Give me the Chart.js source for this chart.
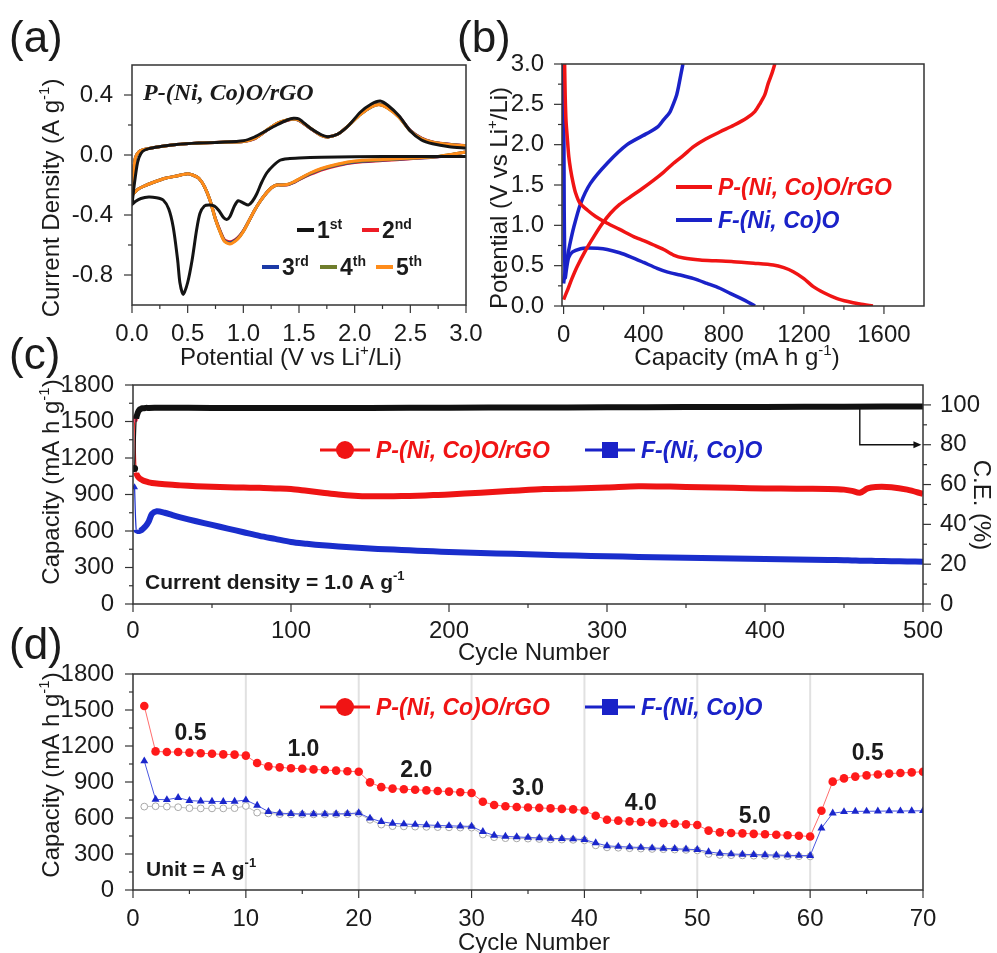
<!DOCTYPE html>
<html><head><meta charset="utf-8">
<script src="https://cdn.jsdelivr.net/npm/chart.js@4.4.1/dist/chart.umd.min.js"></script>
<style>
html,body{margin:0;padding:0;background:#fff;}
#wrap{position:relative;width:997px;height:953px;overflow:hidden;background:#fff;}
canvas{position:absolute;left:0;top:0;}
</style></head><body><div id="wrap">
<canvas id="ca" width="997" height="953"></canvas>
<canvas id="cb" width="997" height="953"></canvas>
<canvas id="cc" width="997" height="953"></canvas>
<canvas id="cd" width="997" height="953"></canvas>
</div>
<script>
// ================= DATA =================
// ---- (a) cyclic voltammetry ----
const cvTicksX = [0, 0.5, 1.0, 1.5, 2.0, 2.5, 3.0];
const cvMinorX = [0.25, 0.75, 1.25, 1.75, 2.25, 2.75];
const cvTicksY = [-0.8, -0.4, 0.0, 0.4];
const cvMinorY = [-0.6, -0.2, 0.2];
const cvCycleNames = ['1', '2', '3', '4', '5'];
const cvCycleSup = ['st', 'nd', 'rd', 'th', 'th'];
// 1st cycle: cathodic scan 3.0 -> 0.0 then anodic scan 0.0 -> 3.0
const cv1Potential = [3.0,2.5,2.0,1.7,1.5,1.4,1.33,1.27,1.21,1.16,1.12,1.08,1.045,1.0,0.955,0.92,0.88,0.85,0.82,0.78,0.74,0.69,0.65,0.61,0.58,0.54,0.5,0.46,0.43,0.41,0.37,0.33,0.28,0.22,0.15,0.08,0.03,0.0,
  0.0,0.02,0.05,0.08,0.12,0.2,0.4,0.6,0.8,1.0,1.1,1.2,1.3,1.4,1.45,1.5,1.6,1.7,1.76,1.85,1.95,2.05,2.15,2.23,2.3,2.4,2.5,2.6,2.7,2.85,3.0];
const cv1Current = [-0.01,-0.01,-0.012,-0.015,-0.02,-0.025,-0.035,-0.07,-0.12,-0.19,-0.26,-0.31,-0.333,-0.32,-0.305,-0.34,-0.41,-0.43,-0.415,-0.37,-0.34,-0.333,-0.34,-0.39,-0.5,-0.7,-0.85,-0.93,-0.85,-0.7,-0.48,-0.36,-0.3,-0.285,-0.28,-0.29,-0.31,-0.33,
  -0.33,-0.2,-0.05,0.01,0.035,0.05,0.07,0.08,0.085,0.095,0.12,0.16,0.2,0.235,0.245,0.24,0.18,0.135,0.122,0.14,0.2,0.285,0.34,0.36,0.33,0.26,0.16,0.1,0.075,0.055,0.045];
// 2nd-5th cycles share the same potential path
const cvPotential = [3.0,2.75,2.5,2.25,2.0,1.85,1.7,1.6,1.5,1.45,1.4,1.35,1.3,1.25,1.2,1.15,1.1,1.05,1.0,0.95,0.9,0.87,0.83,0.8,0.75,0.7,0.65,0.6,0.55,0.5,0.4,0.3,0.2,0.1,0.05,0.01,
  0.0,0.01,0.03,0.06,0.1,0.2,0.4,0.6,0.8,1.0,1.1,1.2,1.3,1.4,1.45,1.5,1.6,1.7,1.76,1.85,1.95,2.05,2.15,2.22,2.3,2.4,2.5,2.6,2.7,2.85,3.0];
const cv2Current = [0.02,-0.012,-0.025,-0.037,-0.05,-0.07,-0.1,-0.13,-0.165,-0.185,-0.198,-0.2,-0.2,-0.22,-0.26,-0.31,-0.37,-0.44,-0.505,-0.55,-0.575,-0.578,-0.565,-0.52,-0.425,-0.3,-0.21,-0.155,-0.135,-0.125,-0.14,-0.155,-0.18,-0.21,-0.23,-0.26,
  -0.27,-0.15,-0.02,0.02,0.035,0.05,0.07,0.08,0.085,0.09,0.108,0.158,0.208,0.232,0.238,0.23,0.178,0.13,0.12,0.14,0.2,0.272,0.322,0.34,0.318,0.255,0.165,0.112,0.087,0.072,0.062];
const cv3Current = [0.02,-0.011,-0.023,-0.034,-0.046,-0.066,-0.096,-0.126,-0.163,-0.183,-0.197,-0.2,-0.2,-0.22,-0.26,-0.31,-0.37,-0.44,-0.507,-0.555,-0.58,-0.584,-0.57,-0.525,-0.428,-0.3,-0.21,-0.155,-0.135,-0.125,-0.14,-0.155,-0.18,-0.21,-0.23,-0.26,
  -0.27,-0.15,-0.02,0.02,0.035,0.05,0.07,0.08,0.085,0.09,0.109,0.159,0.209,0.234,0.239,0.231,0.179,0.13,0.12,0.14,0.2,0.271,0.321,0.337,0.314,0.252,0.162,0.111,0.086,0.071,0.061];
const cv4Current = [0.02,-0.01,-0.021,-0.032,-0.043,-0.063,-0.093,-0.123,-0.161,-0.181,-0.196,-0.2,-0.2,-0.22,-0.26,-0.31,-0.37,-0.44,-0.509,-0.558,-0.585,-0.589,-0.573,-0.528,-0.43,-0.3,-0.21,-0.155,-0.135,-0.125,-0.14,-0.155,-0.18,-0.21,-0.23,-0.26,
  -0.27,-0.15,-0.02,0.02,0.035,0.05,0.07,0.08,0.085,0.09,0.11,0.16,0.21,0.235,0.24,0.232,0.18,0.13,0.12,0.14,0.2,0.27,0.32,0.336,0.312,0.251,0.161,0.11,0.085,0.07,0.06];
const cv5Current = [0.02,-0.01,-0.02,-0.03,-0.04,-0.06,-0.09,-0.12,-0.16,-0.18,-0.195,-0.2,-0.2,-0.22,-0.26,-0.31,-0.37,-0.44,-0.51,-0.56,-0.588,-0.592,-0.575,-0.53,-0.43,-0.3,-0.21,-0.155,-0.135,-0.125,-0.14,-0.155,-0.18,-0.21,-0.23,-0.26,
  -0.27,-0.15,-0.02,0.02,0.035,0.05,0.07,0.08,0.085,0.09,0.11,0.16,0.21,0.235,0.24,0.232,0.18,0.13,0.12,0.14,0.2,0.27,0.32,0.335,0.31,0.25,0.16,0.11,0.085,0.07,0.06];

// ---- (b) charge / discharge profiles ----
const gcTicksX = [0, 400, 800, 1200, 1600];
const gcMinorX = [200, 600, 1000, 1400];
const gcTicksY = [0, 0.5, 1.0, 1.5, 2.0, 2.5, 3.0];
const gcMinorY = [0.25, 0.75, 1.25, 1.75, 2.25, 2.75];
const pDischargeCap = [5,8,12,18,26,35,48,60,80,118,160,218,280,350,400,450,500,549,600,682,760,848,950,1047,1100,1147,1200,1247,1300,1363,1420,1480,1545];
const pDischargeV   = [3.0,2.6,2.3,2.1,1.85,1.69,1.52,1.40,1.28,1.19,1.11,1.025,0.95,0.86,0.81,0.756,0.70,0.632,0.595,0.57,0.56,0.55,0.53,0.508,0.475,0.425,0.34,0.24,0.165,0.095,0.055,0.025,0.0];
const pChargeCap = [0,20,40,68,110,151,190,234,280,334,390,450,500,549,600,649,710,782,850,915,955,981,1005,1022,1040,1055];
const pChargeV   = [0.08,0.2,0.33,0.49,0.69,0.86,1.01,1.15,1.26,1.355,1.45,1.56,1.66,1.77,1.87,1.975,2.07,2.16,2.24,2.33,2.41,2.51,2.62,2.76,2.88,3.0];
const fDischargeCap = [0,1,2,3,5,8,14,25,45,85,118,170,218,280,334,400,467,520,583,650,716,780,832,880,920,956];
const fDischargeV   = [3.0,2.4,1.8,1.2,0.7,0.35,0.45,0.6,0.67,0.71,0.72,0.715,0.70,0.66,0.61,0.54,0.467,0.42,0.384,0.34,0.28,0.22,0.157,0.1,0.05,0.0];
const fChargeCap = [0,6,15,30,51,85,134,218,317,417,470,500,530,549,565,574,585,596];
const fChargeV   = [0.28,0.4,0.55,0.75,0.98,1.27,1.52,1.77,2.0,2.14,2.22,2.31,2.4,2.51,2.62,2.72,2.86,3.0];

// ---- (c) long cycling at 1.0 A g-1 ----
const lcTicksX = [0, 100, 200, 300, 400, 500];
const lcMinorX = [50, 150, 250, 350, 450];
const lcTicksY = [0, 300, 600, 900, 1200, 1500, 1800];
const lcMinorY = [150, 450, 750, 1050, 1350, 1650];
const lcTicksCE = [0, 20, 40, 60, 80, 100];
const lcMinorCE = [10, 30, 50, 70, 90];
const lcCycles = [1,2,3,4,5,6,8,10,12,15,20,25,30,40,50,60,70,80,90,100,110,120,130,140,150,160,170,180,190,200,220,240,260,280,300,320,340,360,380,400,420,440,450,455,460,465,470,480,490,500];
const lcCapacityP = [1520,1080,1050,1035,1025,1018,1008,1000,995,990,985,980,975,968,963,960,957,955,950,945,930,915,900,890,885,885,887,890,895,900,915,930,945,950,958,968,965,960,955,950,948,945,940,930,915,950,962,960,940,905];
const lcCapacityF = [960,610,600,600,605,615,640,680,740,762,750,730,712,680,650,620,590,560,535,510,495,482,472,464,456,450,444,438,433,428,420,412,405,398,392,387,382,378,374,370,366,362,360,358,356,355,354,352,350,348];
const ceCycles = [1,2,3,4,5,6,8,10,20,50,100,150,200,250,300,350,400,450,500];
const ceValues = [68,93,96,97.5,98,98.3,98.5,98.5,98.6,98.5,98.4,98.5,98.6,98.7,98.8,98.9,99.0,99.1,99.2];

// ---- (d) rate capability ----
const rtTicksX = [0, 10, 20, 30, 40, 50, 60, 70];
const rtMinorX = [5, 15, 25, 35, 45, 55, 65];
const rtTicksY = [0, 300, 600, 900, 1200, 1500, 1800];
const rtMinorY = [150, 450, 750, 1050, 1350, 1650];
const rateCycles = [1,2,3,4,5,6,7,8,9,10,11,12,13,14,15,16,17,18,19,20,21,22,23,24,25,26,27,28,29,30,31,32,33,34,35,36,37,38,39,40,41,42,43,44,45,46,47,48,49,50,51,52,53,54,55,56,57,58,59,60,61,62,63,64,65,66,67,68,69,70];
const rateP = [1533,1155,1150,1150,1145,1140,1135,1130,1128,1120,
  1058,1030,1022,1015,1010,1005,1000,995,990,986,
  897,857,845,840,835,830,825,820,815,808,
  736,708,698,692,688,684,680,676,672,663,
  619,585,578,572,567,562,557,552,547,542,
  495,480,475,472,468,465,460,456,452,446,
  660,903,930,945,955,963,970,975,980,986];
const rateF = [1075,755,752,770,745,740,738,736,738,750,
  705,653,640,636,634,633,633,634,636,642,
  598,569,555,550,546,542,538,535,532,530,
  486,455,447,442,438,434,430,428,425,420,
  392,368,362,358,354,350,347,344,340,336,
  318,305,300,297,295,293,291,289,287,286,
  515,640,652,655,656,657,658,658,659,660];
const rateFCharge = [695,698,695,690,682,680,680,680,682,700,
  645,638,632,630,630,630,630,631,632,636,
  585,545,532,530,528,526,524,522,520,520,
  462,440,432,430,428,425,422,420,418,414,
  372,355,352,348,345,342,340,337,334,330,
  300,292,290,288,286,285,283,282,281,280];
const rateLabels = ['0.5', '1.0', '2.0', '3.0', '4.0', '5.0', '0.5'];
const rateLabelX = [5.1, 15.1, 25.1, 35.0, 45.0, 55.1, 65.1];
const rateLabelY = [1319, 1183, 1008, 861, 736, 625, 1153];

// ================= HELPERS =================
const SANS = '"Liberation Sans", Arial, Helvetica, sans-serif';
const SERIF = '"Liberation Serif", "Times New Roman", serif';
const INK = '#1b1b1b';
const RED = '#f01414';
const BLUE = '#1a22c8';
const xy = (xs, ys) => xs.map((x, i) => ({ x: x, y: ys[i] }));

function rich(ctx, parts, x, y, o) {
  const size = o.size;
  const fam = o.family || SANS;
  const fnt = sup => `${o.style || 'normal'} ${o.weight || 'normal'} ${sup ? Math.round(size * 0.62) : size}px ${fam}`;
  parts = parts.map(p => typeof p === 'string' ? { t: p } : p);
  ctx.save();
  ctx.translate(x, y);
  if (o.rot) ctx.rotate(o.rot);
  let w = 0;
  const ws = parts.map(p => { ctx.font = fnt(p.sup); const m = ctx.measureText(p.t).width; w += m; return m; });
  let cx = o.align === 'left' ? 0 : (o.align === 'right' ? -w : -w / 2);
  ctx.fillStyle = o.color || INK;
  ctx.textBaseline = 'alphabetic';
  ctx.textAlign = 'left';
  const base = size * 0.36;
  parts.forEach((p, i) => {
    ctx.font = fnt(p.sup);
    ctx.fillText(p.t, cx, p.sup ? base - size * 0.42 : base);
    cx += ws[i];
  });
  ctx.restore();
}

function frameTicks(chart, spec) {
  const { ctx, chartArea: a } = chart;
  ctx.save();
  ctx.strokeStyle = '#333';
  ctx.lineWidth = 1.2;
  spec.forEach(([id, majors, minors]) => {
    const s = chart.scales[id];
    const draw = (vals, len) => vals.forEach(v => {
      const p = s.getPixelForValue(v);
      ctx.beginPath();
      if (id === 'x') { ctx.moveTo(p, a.bottom); ctx.lineTo(p, a.bottom + len); }
      else if (s.position === 'right') { ctx.moveTo(a.right, p); ctx.lineTo(a.right + len, p); }
      else { ctx.moveTo(a.left - len, p); ctx.lineTo(a.left, p); }
      ctx.stroke();
    });
    draw(majors, 8);
    draw(minors, 4);
  });
  ctx.lineWidth = 1.5;
  ctx.strokeRect(a.left, a.top, a.right - a.left, a.bottom - a.top);
  ctx.restore();
}

function panelLabel(ctx, txt, x, y) {
  ctx.save();
  ctx.font = `44px ${SANS}`;
  ctx.fillStyle = INK;
  ctx.textBaseline = 'middle';
  ctx.textAlign = 'left';
  ctx.fillText(txt, x, y);
  ctx.restore();
}

function lin(opts) {
  const fmt = opts.fmt || (v => String(v));
  return {
    type: 'linear', position: opts.pos, min: opts.min, max: opts.max,
    grid: { display: false }, border: { display: false },
    afterBuildTicks: s => { s.ticks = opts.ticks.map(v => ({ value: v })); },
    afterFit: s => { if (opts.w !== undefined) s.width = opts.w; if (opts.h !== undefined) s.height = opts.h; },
    ticks: {
      autoSkip: false, maxRotation: 0, padding: opts.pad, color: INK,
      font: { family: SANS, size: opts.fs || 24 },
      callback: v => fmt(v)
    }
  };
}

const base = {
  responsive: false, animation: false, events: [],
  plugins: { legend: { display: false }, tooltip: { enabled: false }, title: { display: false } }
};

// ================= PANEL (a) =================
const cvColors = ['#141414', '#ee1c25', '#1b3aa6', '#6f7d2c', '#ff8c1a'];
new Chart(document.getElementById('ca'), {
  type: 'scatter',
  data: {
    datasets: [
      { data: xy(cv1Potential, cv1Current), borderColor: cvColors[0] },
      { data: xy(cvPotential, cv5Current), borderColor: cvColors[4] },
      { data: xy(cvPotential, cv4Current), borderColor: cvColors[3] },
      { data: xy(cvPotential, cv3Current), borderColor: cvColors[2] },
      { data: xy(cvPotential, cv2Current), borderColor: cvColors[1] }
    ].map(d => Object.assign(d, { showLine: true, pointRadius: 0, borderWidth: 3, tension: 0.25, fill: false }))
  },
  options: Object.assign({}, base, {
    layout: { padding: { left: 0, top: 65, right: 531, bottom: 608 } },
    scales: {
      x: lin({ pos: 'bottom', min: 0, max: 3, ticks: cvTicksX, fmt: v => v.toFixed(1), h: 40, pad: 7 }),
      y: lin({ pos: 'left', min: -1.0, max: 0.6, ticks: cvTicksY, fmt: v => v.toFixed(1), w: 132, pad: 11 })
    }
  }),
  plugins: [{
    id: 'decoA',
    afterDraw(chart) {
      const ctx = chart.ctx, a = chart.chartArea;
      frameTicks(chart, [['x', cvTicksX, cvMinorX], ['y', cvTicksY, cvMinorY]]);
      rich(ctx, ['Potential (V vs Li', { t: '+', sup: true }, '/Li)'], (a.left + a.right) / 2 - 8, 356, { size: 24 });
      rich(ctx, ['Current Density (A g', { t: '-1', sup: true }, ')'], 50, 198, { size: 24, rot: -Math.PI / 2 });
      rich(ctx, ['P-(Ni, Co)O/rGO'], 143, 91, { size: 24, family: SERIF, weight: 'bold', style: 'italic', align: 'left' });
      // cycle legend
      const items = [[297, 230], [362, 230], [262, 267], [320, 267], [376, 267]];
      items.forEach(([lx, ly], i) => {
        ctx.save();
        ctx.strokeStyle = cvColors[i];
        ctx.lineWidth = 4;
        ctx.beginPath(); ctx.moveTo(lx, ly); ctx.lineTo(lx + 17, ly); ctx.stroke();
        ctx.restore();
        rich(ctx, [cvCycleNames[i], { t: cvCycleSup[i], sup: true }], lx + 20, ly, { size: 23, weight: 'bold', align: 'left' });
      });
      panelLabel(ctx, '(a)', 9, 40);
    }
  }]
});

// ================= PANEL (b) =================
new Chart(document.getElementById('cb'), {
  type: 'scatter',
  data: {
    datasets: [
      { data: xy(pDischargeCap, pDischargeV), borderColor: RED },
      { data: xy(pChargeCap, pChargeV), borderColor: RED },
      { data: xy(fDischargeCap, fDischargeV), borderColor: BLUE },
      { data: xy(fChargeCap, fChargeV), borderColor: BLUE }
    ].map(d => Object.assign(d, { showLine: true, pointRadius: 0, borderWidth: 3.5, tension: 0.25, fill: false }))
  },
  options: Object.assign({}, base, {
    layout: { padding: { left: 480, top: 64, right: 73, bottom: 607 } },
    scales: {
      x: lin({ pos: 'bottom', min: -8, max: 1800, ticks: gcTicksX, h: 40, pad: 7 }),
      y: lin({ pos: 'left', min: 0, max: 3, ticks: gcTicksY, fmt: v => v.toFixed(1), w: 82, pad: 10 })
    }
  }),
  plugins: [{
    id: 'decoB',
    afterDraw(chart) {
      const ctx = chart.ctx, a = chart.chartArea;
      frameTicks(chart, [['x', gcTicksX, gcMinorX], ['y', gcTicksY, gcMinorY]]);
      rich(ctx, ['Capacity (mA h g', { t: '-1', sup: true }, ')'], (a.left + a.right) / 2 - 6, 356, { size: 24 });
      rich(ctx, ['Potential (V vs Li', { t: '+', sup: true }, '/Li)'], 498, 198, { size: 24, rot: -Math.PI / 2 });
      [[187, RED, 'P-(Ni, Co)O/rGO'], [220, BLUE, 'F-(Ni, Co)O']].forEach(([ly, col, txt]) => {
        ctx.save();
        ctx.strokeStyle = col; ctx.lineWidth = 4;
        ctx.beginPath(); ctx.moveTo(676, ly); ctx.lineTo(712, ly); ctx.stroke();
        ctx.restore();
        rich(ctx, [txt], 718, ly, { size: 23, weight: 'bold', style: 'italic', color: col, align: 'left' });
      });
      panelLabel(ctx, '(b)', 457, 40);
    }
  }]
});

// ================= PANEL (c) =================
function legendPair(ctx, y) {
  ctx.save();
  ctx.strokeStyle = RED; ctx.lineWidth = 3;
  ctx.beginPath(); ctx.moveTo(320, y); ctx.lineTo(370, y); ctx.stroke();
  ctx.fillStyle = RED;
  ctx.beginPath(); ctx.arc(345, y, 9, 0, Math.PI * 2); ctx.fill();
  ctx.strokeStyle = BLUE;
  ctx.beginPath(); ctx.moveTo(585, y); ctx.lineTo(635, y); ctx.stroke();
  ctx.fillStyle = BLUE;
  ctx.fillRect(602, y - 8, 16, 16);
  ctx.restore();
  rich(ctx, ['P-(Ni, Co)O/rGO'], 376, y, { size: 23, weight: 'bold', style: 'italic', color: RED, align: 'left' });
  rich(ctx, ['F-(Ni, Co)O'], 641, y, { size: 23, weight: 'bold', style: 'italic', color: BLUE, align: 'left' });
}
const thinFirst = { borderWidth: c => c.p0DataIndex === 0 ? 1.2 : undefined };
new Chart(document.getElementById('cc'), {
  type: 'line',
  data: {
    datasets: [
      { data: xy(ceCycles, ceValues), yAxisID: 'y1', borderColor: '#111', borderWidth: 6, pointRadius: c => c.dataIndex === 0 ? 3.5 : 0, pointBackgroundColor: '#111', pointBorderWidth: 0, segment: thinFirst },
      { data: xy(lcCycles, lcCapacityP), yAxisID: 'y', borderColor: '#ee1414', borderWidth: 6, pointRadius: c => c.dataIndex === 0 ? 3.5 : 0, pointBackgroundColor: '#ff4d6d', pointBorderWidth: 0, segment: thinFirst },
      { data: xy(lcCycles, lcCapacityF), yAxisID: 'y', borderColor: '#1a2ecc', borderWidth: 6, pointStyle: 'triangle', pointRadius: c => c.dataIndex === 0 ? 4 : 0, pointBackgroundColor: '#1a2ecc', pointBorderWidth: 0, segment: thinFirst }
    ].map(d => Object.assign(d, { tension: 0.3, fill: false }))
  },
  options: Object.assign({}, base, {
    layout: { padding: { left: 0, top: 385, right: 0, bottom: 309 } },
    scales: {
      x: lin({ pos: 'bottom', min: 0, max: 500, ticks: lcTicksX, h: 40, pad: 5 }),
      y: lin({ pos: 'left', min: 0, max: 1800, ticks: lcTicksY, w: 133, pad: 11 }),
      y1: lin({ pos: 'right', min: 0, max: 110, ticks: lcTicksCE, w: 74, pad: 9 })
    }
  }),
  plugins: [{
    id: 'decoC',
    afterDraw(chart) {
      const ctx = chart.ctx, a = chart.chartArea, sx = chart.scales.x, sce = chart.scales.y1, sy = chart.scales.y;
      frameTicks(chart, [['x', lcTicksX, lcMinorX], ['y', lcTicksY, lcMinorY], ['y1', lcTicksCE, lcMinorCE]]);
      rich(ctx, ['Cycle Number'], (a.left + a.right) / 2 + 6, 651, { size: 24 });
      rich(ctx, ['Capacity (mA h g', { t: '-1', sup: true }, ')'], 50, 482, { size: 24, rot: -Math.PI / 2 });
      rich(ctx, ['C.E. (%)'], 983, 505, { size: 24, rot: Math.PI / 2 });
      legendPair(ctx, 450);
      rich(ctx, ['Current density = 1.0 A g', { t: '-1', sup: true }], sx.getPixelForValue(7.6), sy.getPixelForValue(183), { size: 21, weight: 'bold', align: 'left' });
      // arrow from the C.E. curve to the right axis
      const ax = sx.getPixelForValue(460), y0 = sce.getPixelForValue(98.5), y1 = sce.getPixelForValue(80), x1 = sx.getPixelForValue(499);
      ctx.save();
      ctx.strokeStyle = '#111'; ctx.fillStyle = '#111'; ctx.lineWidth = 1.4;
      ctx.beginPath(); ctx.moveTo(ax, y0); ctx.lineTo(ax, y1); ctx.lineTo(x1 - 6, y1); ctx.stroke();
      ctx.beginPath(); ctx.moveTo(x1, y1); ctx.lineTo(x1 - 8, y1 - 3.5); ctx.lineTo(x1 - 8, y1 + 3.5); ctx.closePath(); ctx.fill();
      ctx.restore();
      panelLabel(ctx, '(c)', 9, 357);
    }
  }]
});

// ================= PANEL (d) =================
new Chart(document.getElementById('cd'), {
  type: 'line',
  data: {
    datasets: [
      { data: xy(rateCycles, rateP), borderColor: '#ff6d6d', borderWidth: 1, pointStyle: 'circle', pointRadius: 4.3, pointBackgroundColor: '#ff1a1a', pointBorderColor: '#ff1a1a', pointBorderWidth: 0 },
      { data: xy(rateCycles, rateF), borderColor: '#4a57e0', borderWidth: 1, pointStyle: 'triangle', pointRadius: 4.6, pointBackgroundColor: '#1a26cc', pointBorderColor: '#1a26cc', pointBorderWidth: 0 },
      { data: xy(rateCycles.slice(0, 60), rateFCharge), borderColor: 'rgba(150,150,150,0.6)', borderWidth: 1, pointStyle: 'circle', pointRadius: 3.4, pointBackgroundColor: '#ffffff', pointBorderColor: '#a8a8a8', pointBorderWidth: 1 }
    ].map(d => Object.assign(d, { tension: 0, fill: false }))
  },
  options: Object.assign({}, base, {
    layout: { padding: { left: 0, top: 674, right: 74, bottom: 23 } },
    scales: {
      x: lin({ pos: 'bottom', min: 0, max: 70, ticks: rtTicksX, h: 40, pad: 7 }),
      y: lin({ pos: 'left', min: 0, max: 1800, ticks: rtTicksY, w: 133, pad: 11 })
    }
  }),
  plugins: [{
    id: 'decoD',
    beforeDatasetsDraw(chart) {
      const ctx = chart.ctx, a = chart.chartArea, sx = chart.scales.x;
      ctx.save();
      ctx.strokeStyle = 'rgba(200,200,200,0.55)'; ctx.lineWidth = 2;
      [10, 20, 30, 40, 50, 60].forEach(v => {
        const p = sx.getPixelForValue(v);
        ctx.beginPath(); ctx.moveTo(p, a.top); ctx.lineTo(p, a.bottom); ctx.stroke();
      });
      ctx.restore();
    },
    afterDraw(chart) {
      const ctx = chart.ctx, a = chart.chartArea, sx = chart.scales.x, sy = chart.scales.y;
      frameTicks(chart, [['x', rtTicksX, rtMinorX], ['y', rtTicksY, rtMinorY]]);
      rich(ctx, ['Cycle Number'], (a.left + a.right) / 2 + 6, 941, { size: 24 });
      rich(ctx, ['Capacity (mA h g', { t: '-1', sup: true }, ')'], 50, 775, { size: 24, rot: -Math.PI / 2 });
      legendPair(ctx, 707);
      rateLabels.forEach((t, i) => {
        rich(ctx, [t], sx.getPixelForValue(rateLabelX[i]), sy.getPixelForValue(rateLabelY[i]), { size: 23, weight: 'bold' });
      });
      rich(ctx, ['Unit = A g', { t: '-1', sup: true }], sx.getPixelForValue(1.15), sy.getPixelForValue(183), { size: 21, weight: 'bold', align: 'left' });
      panelLabel(ctx, '(d)', 9, 647);
    }
  }]
});
</script>
</body></html>
